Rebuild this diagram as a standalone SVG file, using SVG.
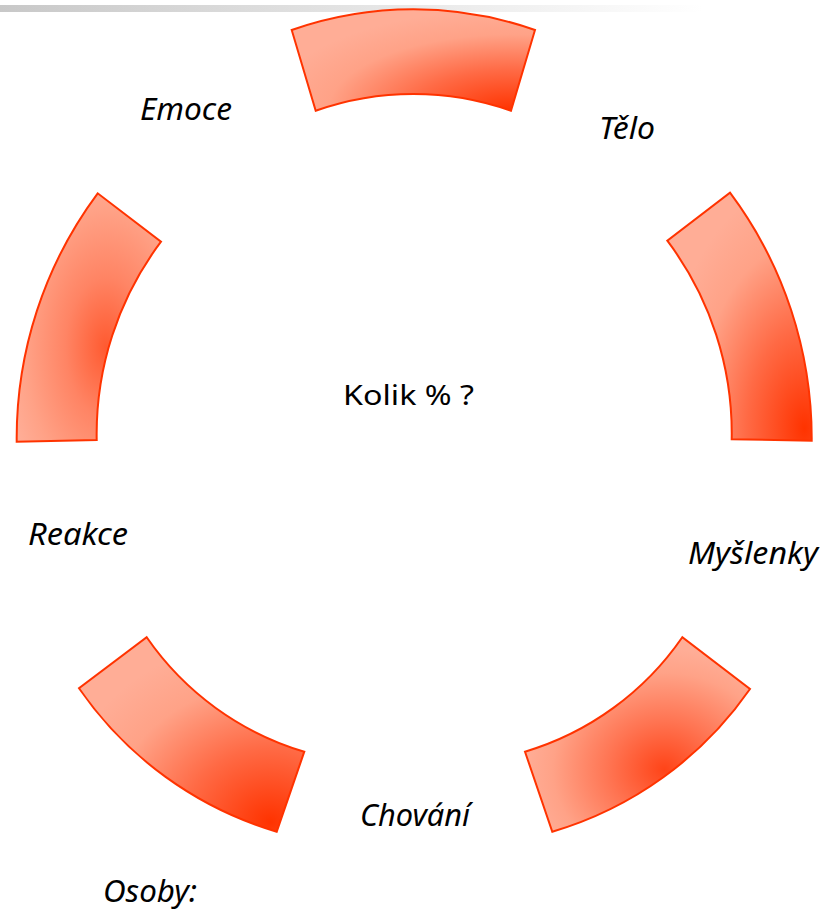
<svg xmlns="http://www.w3.org/2000/svg" width="827" height="912" viewBox="0 0 827 912">
<style>
.seg{stroke:#FF3300;stroke-width:2;stroke-linejoin:miter}
.lbl{font-family:"Noto Sans","DejaVu Sans",sans-serif;font-style:italic;font-size:31px;fill:#000}
.ctr{font-family:"Noto Sans","DejaVu Sans",sans-serif;font-size:28px;fill:#000}
</style>
<defs>
<linearGradient id="bar" x1="0" y1="0" x2="1" y2="0">
<stop offset="0" stop-color="#C8C8C8"/>
<stop offset="0.85" stop-color="#FFFFFF"/>
</linearGradient>
<radialGradient id="gTop" cx="0.9" cy="1" r="1">
<stop offset="0" stop-color="#FF3300"/>
<stop offset="0.4" stop-color="#FF6A45"/>
<stop offset="0.75" stop-color="#FFA287"/>
<stop offset="1" stop-color="#FFAD96"/>
</radialGradient>
<radialGradient id="gRight" cx="0.95" cy="0.95" r="1">
<stop offset="0" stop-color="#FF3300"/>
<stop offset="0.4" stop-color="#FF6A45"/>
<stop offset="0.75" stop-color="#FFA287"/>
<stop offset="1" stop-color="#FFAD96"/>
</radialGradient>
<radialGradient id="gBR" cx="0.62" cy="0.68" r="0.62">
<stop offset="0" stop-color="#FF4418"/>
<stop offset="0.4" stop-color="#FF7452"/>
<stop offset="0.8" stop-color="#FFA287"/>
<stop offset="1" stop-color="#FFAD96"/>
</radialGradient>
<radialGradient id="gBL" cx="0.85" cy="0.95" r="0.95">
<stop offset="0" stop-color="#FF3300"/>
<stop offset="0.4" stop-color="#FF6A45"/>
<stop offset="0.75" stop-color="#FFA287"/>
<stop offset="1" stop-color="#FFAD96"/>
</radialGradient>
<radialGradient id="gLeft" cx="0.62" cy="0.62" r="0.7">
<stop offset="0" stop-color="#FF5A30"/>
<stop offset="0.4" stop-color="#FF8464"/>
<stop offset="0.8" stop-color="#FFA287"/>
<stop offset="1" stop-color="#FFAD96"/>
</radialGradient>
</defs>
<rect x="0" y="5" width="827" height="7" fill="url(#bar)"/>
<g id="seg-top"><path class="seg" fill="url(#gTop)" d="M291.7,30 A367,367 0 0 1 535,30 L511,110.7 A293,293 0 0 0 315.7,110.7 Z"/></g>
<g id="seg-right"><path class="seg" fill="url(#gRight)" d="M730,192.7 A410,410 0 0 1 811.7,440.7 L731.7,439.3 A320,320 0 0 0 667.3,240.7 Z"/></g>
<g id="seg-bottom-right"><path class="seg" fill="url(#gBR)" d="M750,689 A367,367 0 0 1 552.3,831.7 L525,751.7 A293,293 0 0 0 682.3,637.3 Z"/></g>
<g id="seg-bottom-left"><path class="seg" fill="url(#gBL)" d="M276.7,831.7 A367,367 0 0 1 79,688.3 L146.7,637.3 A293,293 0 0 0 304.3,751.7 Z"/></g>
<g id="seg-left"><path class="seg" fill="url(#gLeft)" d="M16.7,441.7 A410,410 0 0 1 97.7,193.3 L161,241.7 A320,320 0 0 0 96.7,440 Z"/></g>
<g id="label-emoce"><text class="lbl" x="140" y="120" textLength="92" lengthAdjust="spacingAndGlyphs">Emoce</text></g>
<g id="label-telo"><text class="lbl" x="599" y="139" textLength="56" lengthAdjust="spacingAndGlyphs">Tělo</text></g>
<g id="label-center"><text class="ctr" x="343" y="405" textLength="131" lengthAdjust="spacingAndGlyphs">Kolik % ?</text></g>
<g id="label-reakce"><text class="lbl" x="28" y="545" textLength="100" lengthAdjust="spacingAndGlyphs">Reakce</text></g>
<g id="label-myslenky"><text class="lbl" x="688" y="564" textLength="130" lengthAdjust="spacingAndGlyphs">Myšlenky</text></g>
<g id="label-chovani"><text class="lbl" x="360" y="826" textLength="110" lengthAdjust="spacingAndGlyphs">Chování</text></g>
<g id="label-osoby"><text class="lbl" x="103" y="902" textLength="94" lengthAdjust="spacingAndGlyphs">Osoby:</text></g>
</svg>
